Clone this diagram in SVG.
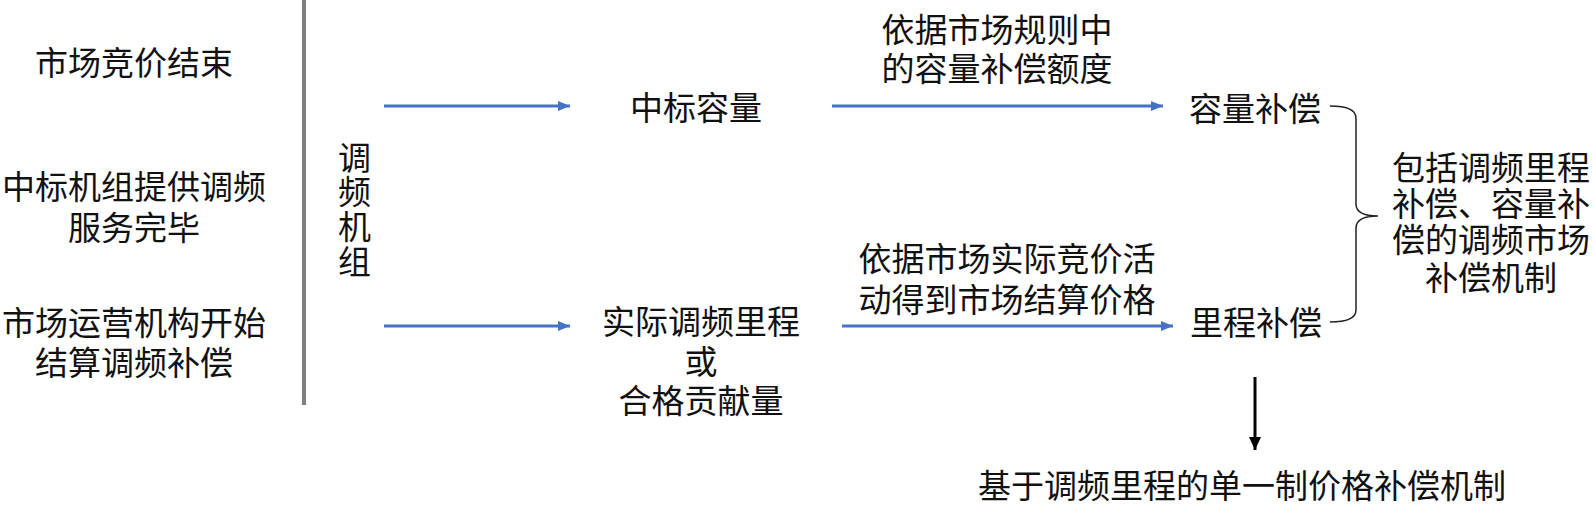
<svg xmlns="http://www.w3.org/2000/svg" width="1594" height="505" viewBox="0 0 1594 505">
<style>
text{font-family:"Liberation Sans","Noto Sans CJK SC","Noto Sans CJK JP",sans-serif;font-size:33px;fill:#111;text-anchor:middle;dominant-baseline:central}
.vert{writing-mode:vertical-rl;letter-spacing:1.7px}
.blue{stroke:#4472C4;stroke-width:3;fill:none}
.blk{stroke:#000;stroke-width:3;fill:none}
.brace{stroke:#222;stroke-width:1.5;fill:none}
</style>
<defs>
<marker id="ab" markerUnits="userSpaceOnUse" markerWidth="12" markerHeight="10" refX="12" refY="5" orient="auto"><path d="M0,0 L12,5 L0,10 z" fill="#4472C4"/></marker>
<marker id="ak" markerUnits="userSpaceOnUse" markerWidth="13" markerHeight="12" refX="13" refY="6" orient="auto"><path d="M0,0 L13,6 L0,12 z" fill="#000"/></marker>
</defs>
<line x1="304" y1="0" x2="304" y2="405" stroke="#808080" stroke-width="4"/>
<g id="stage1"><text x="134" y="63">市场竞价结束</text></g>
<g id="stage2"><text><tspan x="134" y="187">中标机组提供调频</tspan><tspan x="134" y="228">服务完毕</tspan></text></g>
<g id="stage3"><text><tspan x="134" y="323">市场运营机构开始</tspan><tspan x="134" y="363">结算调频补偿</tspan></text></g>
<g id="unit"><text class="vert" x="352" y="210">调频机组</text></g>
<g id="cap"><text x="696" y="108">中标容量</text></g>
<g id="mileage"><text><tspan x="701" y="322">实际调频里程</tspan><tspan x="701" y="362">或</tspan><tspan x="701" y="401">合格贡献量</tspan></text></g>
<g id="label1"><text><tspan x="997" y="30">依据市场规则中</tspan><tspan x="997" y="69">的容量补偿额度</tspan></text></g>
<g id="label2"><text><tspan x="1007" y="259">依据市场实际竞价活</tspan><tspan x="1007" y="300">动得到市场结算价格</tspan></text></g>
<g id="capcomp"><text x="1255" y="109">容量补偿</text></g>
<g id="milecomp"><text x="1256" y="323">里程补偿</text></g>
<g id="mechanism"><text><tspan x="1491" y="168">包括调频里程</tspan><tspan x="1491" y="204">补偿、容量补</tspan><tspan x="1491" y="240">偿的调频市场</tspan><tspan x="1491" y="278">补偿机制</tspan></text></g>
<g id="single"><text x="1242" y="486">基于调频里程的单一制价格补偿机制</text></g>
<g id="connectors">
<line class="blue" x1="384" y1="106" x2="570" y2="106" marker-end="url(#ab)"/>
<line class="blue" x1="384" y1="326" x2="570" y2="326" marker-end="url(#ab)"/>
<line class="blue" x1="832" y1="106" x2="1163" y2="106" marker-end="url(#ab)"/>
<line class="blue" x1="842" y1="326" x2="1173" y2="326" marker-end="url(#ab)"/>
<line class="blk" x1="1255" y1="377" x2="1255" y2="450" marker-end="url(#ak)"/>
<path class="brace" d="M1330,106 Q1356,106 1356,118 L1356,204 Q1356,216 1378,216 Q1356,216 1356,228 L1356,310 Q1356,322 1330,322"/>
</g>
</svg>
